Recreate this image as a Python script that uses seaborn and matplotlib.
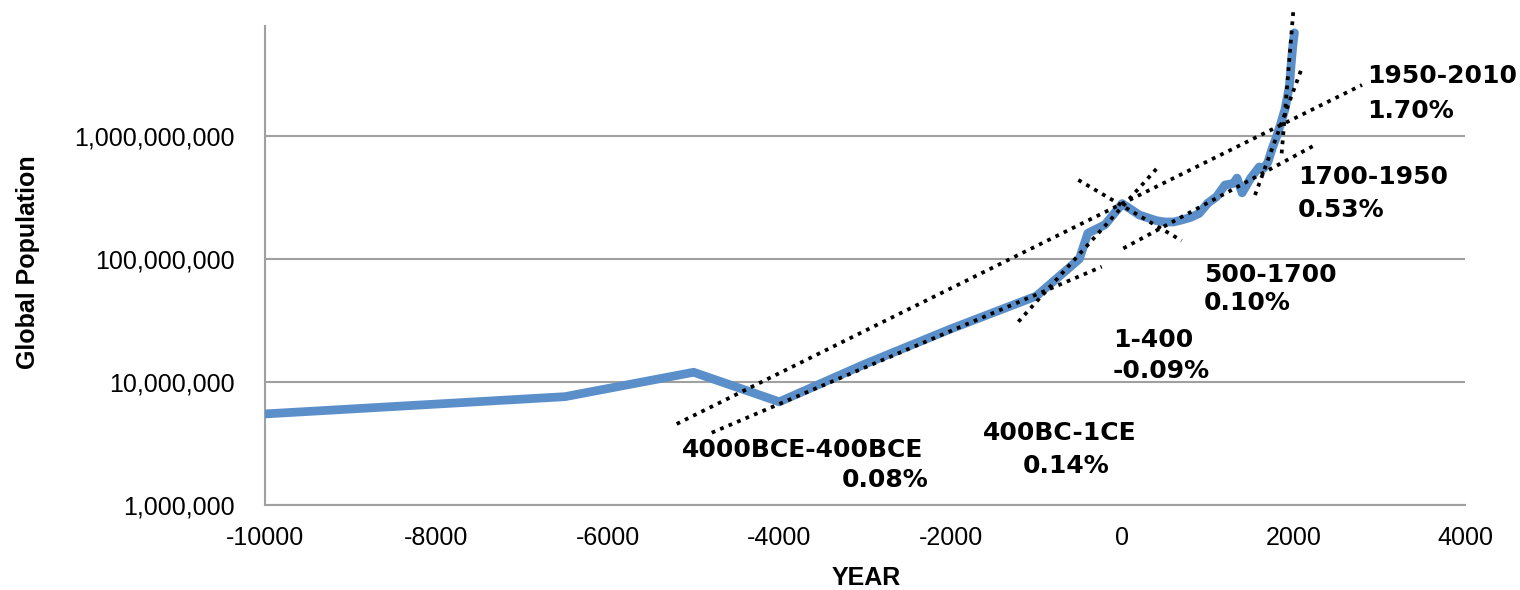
import numpy as np
import pandas as pd
import matplotlib
matplotlib.use('Agg')
import matplotlib.pyplot as plt
import matplotlib.ticker as mticker
import seaborn as sns

sns.set_style('white')
plt.rcParams['font.family'] = ['Liberation Sans', 'DejaVu Sans']
plt.rcParams['axes.unicode_minus'] = False
plt.rcParams['text.color'] = 'black'
plt.rcParams['axes.labelcolor'] = 'black'

# global population estimates (year, people)
years = [-10000, -6500, -5000, -4000, -3000, -2000, -1000, -500, -400, -200, 1,
         200, 400, 500, 600, 700, 800, 900, 1000, 1100, 1200, 1250, 1300, 1340,
         1400, 1500, 1600, 1650, 1700, 1750, 1800, 1850, 1900, 1950, 1960, 1970,
         1980, 1990, 2000, 2010]
population = [5.5e6, 7.6e6, 12e6, 6.9e6, 14e6, 27e6, 50e6, 100e6, 162e6, 190e6, 282e6,
              228e6, 205e6, 200e6, 200e6, 208e6, 218e6, 235e6, 285e6, 320e6, 400e6, 405e6, 412e6, 455e6,
              345e6, 455e6, 560e6, 545e6, 610e6, 790e6, 980e6, 1.26e9, 1.65e9, 2.52e9, 3.02e9, 3.7e9,
              4.44e9, 5.3e9, 6.1e9, 6.9e9]

# dotted trend lines (start / end)
trend_start_year = [-5197, -4788, -1211, -511, 14, 1550, 1861]
trend_start_pop = [4.56e6, 3.87e6, 3.09e7, 4.39e8, 1.22e8, 3.31e8, 7.23e8]
trend_end_year = [2798, -238, 422, 695, 2250, 2095, 1997]
trend_end_pop = [2.60e9, 8.65e7, 5.62e8, 1.41e8, 8.45e8, 3.55e9, 1.04e10]

# period labels
label_text = ['1950-2010', '1.70%', '1700-1950', '0.53%', '500-1700', '0.10%',
              '1-400', '-0.09%', '400BC-1CE', '0.14%', '4000BCE-400BCE', '0.08%']
label_year = [2857, 2857, 2052, 2052, 955, 955, -107, -107, -1623, -1157, -5135, -3268]
label_log = [9.431, 9.146, 8.610, 8.341, 7.813, 7.585, 7.285, 7.033, 6.528, 6.260, 6.390, 6.146]

df = pd.DataFrame({'year': years, 'population': population})

fig = plt.figure(figsize=(15.2, 5.9), dpi=100)
ax = fig.add_axes([265 / 1520, 85 / 590, 1200 / 1520, 479 / 590])

sns.lineplot(data=df, x='year', y='population', ax=ax, color='#5b8fc9', lw=6.3,
             estimator=None, sort=False, solid_capstyle='round', solid_joinstyle='round',
             zorder=3)

for x0, y0, x1, y1 in zip(trend_start_year, trend_start_pop, trend_end_year, trend_end_pop):
    ax.plot([x0, x1], [y0, y1], color='black', lw=2.7, linestyle=(0, (1, 1.45)),
            dash_capstyle='butt', zorder=4, clip_on=False)

for t, x, lg in zip(label_text, label_year, label_log):
    ax.text(x, 10 ** lg, t, fontsize=18, fontweight='bold', family='DejaVu Sans',
            color='black', ha='left', va='baseline', zorder=5)

ax.set_yscale('log')
ax.set_xlim(-10000, 4000)
ax.set_ylim(1e6, 10 ** (6 + 479 / 123))
ax.set_xticks(np.arange(-10000, 4001, 2000))
ax.set_yticks([1e6, 1e7, 1e8, 1e9])
ax.yaxis.set_minor_locator(mticker.NullLocator())
ax.yaxis.set_major_formatter(mticker.FuncFormatter(lambda v, p: '{:,.0f}'.format(v)))

grey = '#a0a0a0'
ax.yaxis.grid(True, color=grey, lw=1.5)
ax.xaxis.grid(False)
for s in ['top', 'right']:
    ax.spines[s].set_visible(False)
for s in ['left', 'bottom']:
    ax.spines[s].set_color(grey)
    ax.spines[s].set_linewidth(1.5)

ax.tick_params(axis='both', direction='out', length=5, width=1.5, color=grey,
               labelsize=18, labelcolor='black')
ax.tick_params(axis='y', pad=17)
ax.tick_params(axis='x', pad=10)

ax.set_xlabel('YEAR', fontsize=18, fontweight='bold', color='black', va='center')
ax.xaxis.set_label_coords(0.5008, -0.152)
ax.set_ylabel('Global Population', fontsize=18, fontweight='bold', color='black', va='center')
ax.yaxis.set_label_coords(-0.1975, 0.507)

fig.savefig('out.png', dpi=100)
